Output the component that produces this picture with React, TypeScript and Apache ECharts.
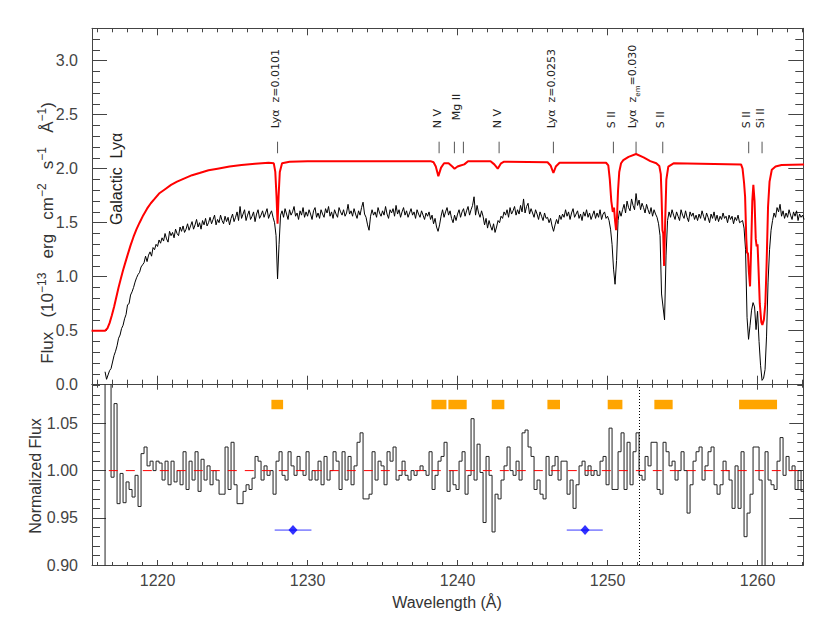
import React, { useEffect, useRef } from "react";
import * as echarts from "echarts";

const FONT = "Liberation Sans, Arial, sans-serif";
const LABEL_FONT = "DejaVu Sans, sans-serif";

// ---------- axis ranges ----------
const X_MIN = 1215.63;
const X_MAX = 1263.05;
const Y1_MIN = 0;
const Y1_MAX = 3.3;
const Y2_MIN = 0.9;
const Y2_MAX = 1.091;

// ---------- observed spectrum (flux, 1e-13), sampled every 0.1 A from 1216.5 ----------
const SPEC_START = 1216.5;
const SPEC_STEP = 0.1;
const specFlux = [
  0.12, 0.05, 0.09, 0.13, 0.15,
  0.21, 0.27, 0.31, 0.36, 0.43, 0.46, 0.52, 0.55, 0.61, 0.65,
  0.74, 0.75, 0.83, 0.86, 0.90, 0.95, 0.99, 1.02, 1.04, 1.09,
  1.11, 1.13, 1.19, 1.14, 1.20, 1.23, 1.19, 1.27, 1.25, 1.30,
  1.28, 1.34, 1.31, 1.36, 1.33, 1.40, 1.35, 1.32, 1.42, 1.38,
  1.41, 1.36, 1.44, 1.40, 1.38, 1.46, 1.42, 1.47, 1.41, 1.44,
  1.49, 1.43, 1.47, 1.51, 1.44, 1.48, 1.53, 1.46, 1.50, 1.44,
  1.52, 1.48, 1.54, 1.47, 1.50, 1.55, 1.49, 1.53, 1.57, 1.48,
  1.53, 1.50, 1.57, 1.52, 1.49, 1.56, 1.51, 1.55, 1.48, 1.54,
  1.58, 1.51, 1.55, 1.60, 1.52, 1.65, 1.54, 1.58, 1.62, 1.52,
  1.57, 1.61, 1.53, 1.56, 1.60, 1.51, 1.58, 1.62, 1.54, 1.57,
  1.61, 1.55, 1.59, 1.63, 1.54, 1.58, 1.61, 1.55, 1.50, 1.38,
  0.98, 1.30, 1.57, 1.61, 1.55, 1.63, 1.58, 1.53, 1.62, 1.57,
  1.60, 1.65, 1.56, 1.59, 1.53, 1.61, 1.57, 1.64, 1.55, 1.60,
  1.56, 1.62, 1.58, 1.53, 1.61, 1.64, 1.55, 1.59, 1.54, 1.62,
  1.58, 1.55, 1.63, 1.59, 1.65, 1.56, 1.60, 1.54, 1.62, 1.58,
  1.55, 1.64, 1.60, 1.57, 1.62, 1.56, 1.59, 1.67, 1.58, 1.61,
  1.56, 1.63, 1.58, 1.54, 1.61, 1.57, 1.64, 1.69, 1.58, 1.55,
  1.48, 1.43, 1.56, 1.62, 1.57, 1.60, 1.55, 1.64, 1.59, 1.56,
  1.61, 1.57, 1.65, 1.58, 1.54, 1.62, 1.59, 1.63, 1.56, 1.66,
  1.58, 1.62, 1.55, 1.60, 1.64, 1.57, 1.61, 1.55, 1.59, 1.63,
  1.57, 1.60, 1.54, 1.62, 1.58, 1.55, 1.61, 1.57, 1.53, 1.59,
  1.56, 1.60, 1.53, 1.57, 1.49, 1.54, 1.46, 1.42, 1.48, 1.56,
  1.62, 1.55, 1.60, 1.64, 1.57, 1.61, 1.54, 1.50, 1.57, 1.52,
  1.58, 1.62, 1.55, 1.60, 1.63, 1.56, 1.61, 1.65, 1.57, 1.62,
  1.66, 1.74, 1.57, 1.66, 1.59, 1.55, 1.61, 1.56, 1.48, 1.54,
  1.45, 1.52, 1.47, 1.43, 1.49, 1.41, 1.46, 1.52, 1.50, 1.56,
  1.54, 1.60, 1.57, 1.62, 1.55, 1.64, 1.58, 1.61, 1.65, 1.57,
  1.62, 1.58, 1.66, 1.60, 1.72, 1.59, 1.65, 1.68, 1.58, 1.63,
  1.59, 1.55, 1.62, 1.58, 1.53, 1.60, 1.56, 1.52, 1.59, 1.54,
  1.55, 1.50, 1.54, 1.47, 1.42, 1.48, 1.53, 1.49, 1.57, 1.53,
  1.58, 1.55, 1.62, 1.56, 1.60, 1.53, 1.59, 1.63, 1.55, 1.58,
  1.61, 1.54, 1.58, 1.52, 1.60, 1.56, 1.62, 1.55, 1.59, 1.53,
  1.57, 1.61, 1.54, 1.59, 1.55, 1.62, 1.53, 1.58, 1.60, 1.54,
  1.56, 1.52, 1.44, 1.30, 1.07, 0.93, 1.15, 1.52, 1.61, 1.56,
  1.62, 1.67, 1.59, 1.70, 1.64, 1.61, 1.72, 1.66, 1.62, 1.77,
  1.66, 1.71, 1.62, 1.68, 1.64, 1.59, 1.67, 1.62, 1.58, 1.64,
  1.56, 1.62, 1.58, 1.55, 1.49, 1.38, 0.84, 0.72, 0.60, 1.20,
  1.52, 1.60, 1.55, 1.62, 1.57, 1.53, 1.60, 1.56, 1.52, 1.62,
  1.57, 1.54, 1.61, 1.55, 1.51, 1.60, 1.56, 1.59, 1.53, 1.57,
  1.52, 1.58, 1.54, 1.61, 1.56, 1.52, 1.59, 1.55, 1.50, 1.58,
  1.54, 1.60, 1.52, 1.57, 1.51, 1.56, 1.53, 1.59, 1.54, 1.56,
  1.50, 1.57, 1.53, 1.56, 1.49, 1.55, 1.52, 1.57, 1.50, 1.51,
  1.52, 1.45, 1.25, 0.62, 0.42, 0.55, 0.69, 0.76, 0.72, 0.51,
  0.68, 0.40, 0.18, 0.04, 0.06, 0.14, 0.45, 0.95, 1.25, 1.43,
  1.52, 1.59, 1.55, 1.64, 1.60, 1.67, 1.56, 1.61, 1.54, 1.59,
  1.55, 1.62, 1.57, 1.53, 1.60, 1.56, 1.61, 1.52, 1.58, 1.55,
  1.57, 1.53,
];

// ---------- model (red) ----------
const modelWave = [
  1215.6, 1216.5, 1216.65, 1216.8, 1216.95, 1217.1, 1217.25, 1217.4, 1217.55, 1217.7,
  1217.85, 1218.0, 1218.2, 1218.4, 1218.6, 1218.8, 1219.05, 1219.3, 1219.55, 1219.8,
  1220.1, 1220.5, 1220.9, 1221.3, 1221.8, 1222.3, 1222.8, 1223.4, 1224.0, 1224.8,
  1225.6, 1226.5, 1227.4, 1227.75, 1227.85, 1227.93, 1228.0, 1228.07, 1228.15, 1228.3,
  1228.8, 1230.0, 1238.2, 1238.4, 1238.55, 1238.72, 1238.9, 1239.1, 1239.4, 1239.65,
  1239.8, 1240.0, 1240.2, 1240.45, 1240.7, 1242.2, 1242.45, 1242.68, 1242.9, 1243.1,
  1246.0, 1246.2, 1246.39, 1246.55, 1246.8, 1249.9, 1250.05, 1250.15, 1250.25, 1250.35,
  1250.43, 1250.5, 1250.57, 1250.63, 1250.7, 1250.78, 1250.9, 1251.05, 1251.4, 1251.9,
  1252.4, 1252.85, 1253.25, 1253.45, 1253.55, 1253.6, 1253.66, 1253.71, 1253.77, 1253.84,
  1253.92, 1254.05, 1254.4, 1258.9, 1259.0, 1259.1, 1259.17, 1259.25, 1259.3, 1259.36,
  1259.42, 1259.5, 1259.58, 1259.65, 1259.72, 1259.8, 1259.88, 1259.94, 1260.0, 1260.07,
  1260.15, 1260.25, 1260.32, 1260.42, 1260.52, 1260.6, 1260.7, 1260.8, 1260.95, 1261.2,
  1261.6, 1263.1,
];
const modelFlux = [
  0.50, 0.50, 0.52, 0.57, 0.64, 0.72, 0.81, 0.90, 0.98, 1.06,
  1.13, 1.20, 1.29, 1.37, 1.44, 1.50, 1.57, 1.63, 1.68, 1.72,
  1.77, 1.81, 1.85, 1.88, 1.91, 1.94, 1.96, 1.985, 2.00, 2.02,
  2.035, 2.045, 2.055, 2.05, 1.97, 1.75, 1.49, 1.75, 1.97, 2.05,
  2.065, 2.07, 2.07, 2.06, 2.02, 1.93, 2.01, 2.05, 2.05, 2.02,
  2.00, 2.02, 2.03, 2.04, 2.07, 2.07, 2.04, 2.00, 2.05, 2.065,
  2.06, 2.03, 1.96, 2.02, 2.055, 2.055, 2.03, 1.90, 1.70, 1.60,
  1.64, 1.52, 1.43, 1.55, 1.80, 1.97, 2.05, 2.08, 2.11, 2.136,
  2.105, 2.07, 2.05, 2.025, 1.95, 1.75, 1.43, 1.40, 1.10, 1.50,
  1.90, 2.02, 2.05, 2.04, 2.00, 1.87, 1.74, 1.35, 1.22, 1.22,
  1.05, 0.91, 1.30, 1.70, 1.85, 1.70, 1.35, 1.28, 1.30, 1.05,
  0.75, 0.58, 0.553, 0.60, 0.75, 1.10, 1.65, 1.88, 1.99, 2.02,
  2.035, 2.04,
];

// ---------- normalized flux histogram (bins of 0.2 A from 1216.9) ----------
const NORM_START = 1216.9;
const NORM_WIDTH = 0.2;
const normLeadWave = [1216.3, 1216.5];
const normLeadFlux = [0.5, 1.3];
const normFlux = [
  0.993, 1.071, 0.965, 0.997, 0.966, 0.988, 0.980, 0.972, 0.995, 0.962, 1.018, 1.025, 1.005, 1.010,
  1.000, 1.010, 1.008, 0.990, 1.010, 0.985, 1.010, 0.988, 1.000,
  0.985, 1.020, 0.980, 1.010, 0.990, 1.020, 0.978,
  1.012, 0.990, 1.005, 0.985, 1.000, 0.990, 0.975,
  0.975, 1.025, 0.980, 1.030, 0.985,
  0.965, 0.965, 0.978, 0.985, 0.980, 0.992,
  1.015, 1.010, 0.990, 1.005,
  0.995, 1.000, 0.975, 1.010, 1.020, 0.995,
  0.990, 1.020, 1.005, 0.995, 1.015, 1.000, 0.995, 1.020,
  0.990, 1.000, 0.990, 1.010, 0.985, 1.015, 0.990, 1.000,
  1.020, 1.010, 0.980, 1.020, 0.990, 1.015, 0.985,
  1.005, 1.030, 1.040, 0.970, 0.970, 0.975,
  1.020, 0.990, 1.010, 1.005, 0.985, 1.020, 1.010,
  1.025, 0.990, 0.995, 1.010, 0.995, 0.990, 1.000,
  0.995, 1.000, 1.005, 1.000, 0.995, 1.020,
  0.980, 0.995, 1.010, 1.015,
  1.030, 0.978, 1.000, 0.985,
  0.980, 1.010, 1.020,
  0.975, 0.995,
  1.055, 0.990, 1.028,
  0.998, 0.945, 1.015,
  0.995, 0.935, 0.975, 0.970,
  0.990, 1.005, 1.025,
  1.000, 0.995, 1.010, 0.990,
  1.040, 1.043, 1.025, 1.015,
  0.980, 0.990, 0.975, 0.970,
  1.015, 0.995, 1.005, 1.015,
  0.990, 1.010, 1.010, 0.975,
  0.990, 0.960, 0.985, 1.005,
  1.010, 0.995, 1.005, 0.995,
  1.000, 0.995, 1.010, 1.015,
  0.985, 1.045, 0.980,
  0.980, 1.020, 1.040,
  0.980, 1.030, 0.985, 1.020,
  1.040, 0.995, 0.990, 1.015,
  1.005, 1.030, 1.030, 0.980,
  0.975, 1.030, 1.020,
  1.005, 1.010, 0.990, 1.000,
  1.020, 1.000, 0.955,
  0.985, 1.010, 1.020, 1.025,
  0.990, 1.005, 1.020, 1.025,
  0.985, 0.975, 0.985,
  1.010, 1.000, 0.990, 0.960,
  1.005, 0.960, 1.020,
  0.930, 0.955, 0.975,
  1.025, 1.025, 0.990,
  0.850,
  1.020, 0.990,
  0.985, 0.980, 1.010,
  1.035, 0.995, 1.015,
  1.000, 1.005, 0.980,
  1.000, 0.978,
];

const UNITY_WAVE = [1216.75, 1263.1];
const UNITY_FLUX = [1.0, 1.0];
const LYA_EM_WAVE = 1252.12;

// ---------- masked regions (orange) ----------
const maskStart = [1227.59, 1238.26, 1239.39, 1242.28, 1245.99, 1250.01, 1253.12, 1258.77];
const maskEnd = [1228.37, 1239.26, 1240.61, 1243.12, 1246.83, 1250.99, 1254.34, 1261.3];
const MASK_LO = 1.065;
const MASK_HI = 1.075;

// ---------- blue measurements ----------
const measWave = [1229.03, 1248.5];
const measLow = [1227.81, 1247.28];
const measHigh = [1230.26, 1249.68];
const measValue = [0.937, 0.937];

// ---------- line identifications ----------
const tickWave = [1228.0, 1238.77, 1239.79, 1240.39, 1242.77, 1246.39, 1250.39, 1251.9, 1253.68, 1259.41, 1260.3];
const labelWave = [1228.0, 1238.77, 1240.09, 1242.77, 1246.39, 1250.39, 1251.9, 1253.68, 1259.41, 1260.3];
const labelText = [
  "Lyα  z=0.0101",
  "N V",
  "Mg II",
  "N V",
  "Lyα  z=0.0253",
  "S II",
  "{a|Lyα  z}{s|em}{a|=0.030}",
  "S II",
  "S II",
  "Si II",
];
const TICK_LO = 2.143;
const TICK_HI = 2.25;
const LABEL_BASE = 2.374;
const GALACTIC_POS = [1217.23, 1.905];

function buildOption(): any {
  const specData = specFlux.map((v, i) => [+(SPEC_START + i * SPEC_STEP).toFixed(2), v]);
  const modelData = modelWave.map((w, i) => [w, modelFlux[i]]);
  const normData: number[][] = normLeadWave.map((w, i) => [w, normLeadFlux[i]]);
  normFlux.forEach((v, i) => normData.push([+(NORM_START + i * NORM_WIDTH).toFixed(2), v]));
  normData.push([+(NORM_START + normFlux.length * NORM_WIDTH).toFixed(2), normFlux[normFlux.length - 1]]);

  const axColor = "#444";
  const xAx = (grid: number, pos: string, showLabel: boolean, major: number, minor: number) => ({
    type: "value",
    gridIndex: grid,
    position: pos,
    min: X_MIN,
    max: X_MAX,
    splitNumber: 5,
    axisLine: { show: true, onZero: false, lineStyle: { color: axColor, width: 1 } },
    axisTick: { show: true, inside: true, length: major, lineStyle: { color: axColor, width: 1 } },
    minorTick: { show: true, splitNumber: 10, length: minor, lineStyle: { color: axColor, width: 1 } },
    splitLine: { show: false },
    minorSplitLine: { show: false },
    axisLabel: {
      show: showLabel,
      showMinLabel: false,
      showMaxLabel: false,
      color: "#444",
      fontSize: 16,
      fontFamily: FONT,
      margin: 7,
      formatter: (v: number) => String(Math.round(v)),
    },
  });
  const yAx = (
    grid: number,
    pos: string,
    showLabel: boolean,
    min: number,
    max: number,
    interval: number,
    major: number,
    minor: number,
    digits: number
  ) => ({
    type: "value",
    gridIndex: grid,
    position: pos,
    min,
    max,
    interval,
    axisLine: { show: true, onZero: false, lineStyle: { color: axColor, width: 1 } },
    axisTick: { show: true, inside: true, length: major, lineStyle: { color: axColor, width: 1 } },
    minorTick: { show: true, splitNumber: 5, length: minor, lineStyle: { color: axColor, width: 1 } },
    splitLine: { show: false },
    minorSplitLine: { show: false },
    axisLabel: {
      show: showLabel,
      showMaxLabel: false,
      color: "#444",
      fontSize: 16,
      fontFamily: FONT,
      margin: 14,
      formatter: (v: number) => v.toFixed(digits),
    },
  });

  return {
    animation: false,
    backgroundColor: "#fff",
    grid: [
      { left: 92, top: 28.3, width: 711.3, height: 356.4 },
      { left: 92, top: 384.7, width: 711.3, height: 180.3 },
    ],
    xAxis: [
      xAx(0, "bottom", false, 9, 5),
      xAx(0, "top", false, 7, 4),
      xAx(1, "bottom", true, 5, 3),
      xAx(1, "top", false, 5, 3),
    ],
    yAxis: [
      yAx(0, "left", true, Y1_MIN, Y1_MAX, 0.5, 15, 8, 1),
      yAx(0, "right", false, Y1_MIN, Y1_MAX, 0.5, 15, 8, 1),
      yAx(1, "left", true, Y2_MIN, Y2_MAX, 0.05, 14, 8, 2),
      yAx(1, "right", false, Y2_MIN, Y2_MAX, 0.05, 14, 6, 2),
    ],
    graphic: [
      {
        type: "text",
        x: 447,
        y: 602,
        style: {
          text: "Wavelength (Å)",
          fontSize: 16,
          fontFamily: FONT,
          fill: "#333",
          align: "center",
          verticalAlign: "middle",
        },
      },
      {
        type: "text",
        x: 47,
        y: 233,
        rotation: Math.PI / 2,
        style: {
          text: "{n|Flux   (10}{s|−13}{n|   erg   cm}{s|−2}{n|   s}{s|−1}{n|   Å}{s|−1}{n|)}",
          rich: {
            n: { fontSize: 17, fontFamily: FONT, fill: "#333", lineHeight: 22, verticalAlign: "middle" },
            s: { fontSize: 12, fontFamily: FONT, fill: "#333", lineHeight: 12, verticalAlign: "top" },
          },
          align: "center",
          verticalAlign: "middle",
        },
      },
      {
        type: "text",
        x: 35,
        y: 476,
        rotation: Math.PI / 2,
        style: {
          text: "Normalized Flux",
          fontSize: 16,
          fontFamily: FONT,
          fill: "#333",
          align: "center",
          verticalAlign: "middle",
        },
      },
    ],
    series: [
      {
        type: "line",
        xAxisIndex: 0,
        yAxisIndex: 0,
        data: specData,
        showSymbol: false,
        symbol: "none",
        lineStyle: { color: "#000", width: 1 },
        z: 2,
        silent: true,
      },
      {
        type: "line",
        xAxisIndex: 0,
        yAxisIndex: 0,
        data: modelData,
        showSymbol: false,
        symbol: "none",
        lineStyle: { color: "#ff0000", width: 2 },
        z: 3,
        silent: true,
      },
      {
        type: "custom",
        xAxisIndex: 0,
        yAxisIndex: 0,
        data: tickWave.map((w) => [w, TICK_HI]),
        silent: true,
        z: 4,
        renderItem: (_p: any, api: any) => {
          const w = api.value(0);
          const a = api.coord([w, TICK_LO]);
          const b = api.coord([w, TICK_HI]);
          return {
            type: "line",
            shape: { x1: a[0], y1: a[1], x2: b[0], y2: b[1] },
            style: { stroke: "#555", lineWidth: 1 },
          };
        },
      },
      {
        type: "custom",
        xAxisIndex: 0,
        yAxisIndex: 0,
        data: labelWave.map((w) => [w, LABEL_BASE]),
        silent: true,
        z: 4,
        renderItem: (p: any, api: any) => {
          const i = p.dataIndex;
          const pt = api.coord([api.value(0), LABEL_BASE]);
          const lift = labelText[i] === "Mg II" ? 8 : 0;
          return {
            type: "text",
            x: pt[0] - 2,
            y: pt[1] - lift,
            rotation: Math.PI / 2,
            style: {
              text: labelText[i],
              fontSize: 11,
              fontFamily: LABEL_FONT,
              fill: "#222",
              align: "left",
              verticalAlign: "middle",
              rich: {
                a: { fontSize: 11, fontFamily: LABEL_FONT, fill: "#222", lineHeight: 14, verticalAlign: "top" },
                s: { fontSize: 7, fontFamily: LABEL_FONT, fill: "#222", lineHeight: 8, verticalAlign: "bottom" },
              },
            },
          };
        },
      },
      {
        type: "custom",
        xAxisIndex: 0,
        yAxisIndex: 0,
        data: [GALACTIC_POS],
        silent: true,
        z: 4,
        renderItem: (_p: any, api: any) => {
          const pt = api.coord([api.value(0), api.value(1)]);
          return {
            type: "text",
            x: pt[0],
            y: pt[1],
            rotation: Math.PI / 2,
            style: {
              text: "Galactic  Lyα",
              fontSize: 16,
              fontFamily: FONT,
              fill: "#222",
              align: "center",
              verticalAlign: "middle",
            },
          };
        },
      },
      {
        type: "line",
        xAxisIndex: 2,
        yAxisIndex: 2,
        data: normData,
        step: "end",
        showSymbol: false,
        symbol: "none",
        lineStyle: { color: "#222", width: 1 },
        z: 2,
        silent: true,
        markLine: {
          silent: true,
          symbol: ["none", "none"],
          label: { show: false },
          lineStyle: { color: "#000", type: [1, 2], width: 1 },
          data: [{ xAxis: LYA_EM_WAVE }],
        },
      },
      {
        type: "line",
        xAxisIndex: 2,
        yAxisIndex: 2,
        data: UNITY_WAVE.map((w, i) => [w, UNITY_FLUX[i]]),
        showSymbol: false,
        symbol: "none",
        lineStyle: { color: "#ff0000", width: 1, type: [9, 8] },
        z: 3,
        silent: true,
      },
      {
        type: "custom",
        xAxisIndex: 2,
        yAxisIndex: 2,
        data: maskStart.map((s, i) => [s, maskEnd[i]]),
        silent: true,
        z: 4,
        renderItem: (_p: any, api: any) => {
          const a = api.coord([api.value(0), MASK_HI]);
          const b = api.coord([api.value(1), MASK_LO]);
          return {
            type: "rect",
            shape: { x: a[0], y: a[1], width: b[0] - a[0], height: b[1] - a[1] },
            style: { fill: "#FFA500" },
          };
        },
      },
      {
        type: "custom",
        xAxisIndex: 2,
        yAxisIndex: 2,
        data: measLow.map((l, i) => [l, measHigh[i], measValue[i]]),
        silent: true,
        z: 4,
        renderItem: (_p: any, api: any) => {
          const a = api.coord([api.value(0), api.value(2)]);
          const b = api.coord([api.value(1), api.value(2)]);
          return {
            type: "line",
            shape: { x1: a[0], y1: a[1], x2: b[0], y2: b[1] },
            style: { stroke: "#3a3aff", lineWidth: 1 },
          };
        },
      },
      {
        type: "scatter",
        xAxisIndex: 2,
        yAxisIndex: 2,
        data: measWave.map((w, i) => [w, measValue[i]]),
        symbol: "diamond",
        symbolSize: [9, 10],
        itemStyle: { color: "#0000ff" },
        z: 5,
        silent: true,
      },
    ],
  };
}

export default function App() {
  const ref = useRef<HTMLDivElement>(null);
  useEffect(() => {
    if (!ref.current) return;
    const chart = echarts.init(ref.current, undefined, { renderer: "svg" });
    chart.setOption(buildOption());
    return () => {
      chart.dispose();
    };
  }, []);
  return (
    <div
      ref={ref}
      style={{ position: "fixed", left: 0, top: 0, width: 830, height: 624, background: "#fff" }}
    />
  );
}
